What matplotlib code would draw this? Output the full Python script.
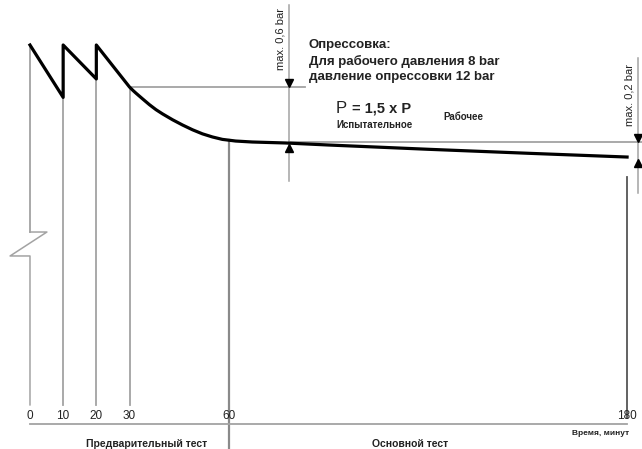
import numpy as np
import matplotlib
matplotlib.use("Agg")
import matplotlib.pyplot as plt

plt.rcParams['font.family'] = ['Liberation Sans', 'DejaVu Sans']

# pressure curve, bar vs minutes
time = [0, 10, 10, 20, 20, 30, 31, 32, 34, 36, 38, 40, 43, 46, 49, 52, 55, 58,
        62, 67, 77, 90, 120, 150, 180]
pressure = [12.0, 11.46, 12.0, 11.65, 12.0, 11.567, 11.533, 11.502, 11.443,
            11.385, 11.333, 11.289, 11.229, 11.175, 11.126, 11.084, 11.052,
            11.027, 11.01, 11.0, 10.99, 10.969, 10.925, 10.884, 10.845]

tick_times = [0, 10, 20, 30, 60, 180]
tick_labels = ["0", "10", "20", "30", "60", "180"]

ref_06 = 11.567   # level at end of pre-test
ref_02 = 11.0     # level at start of main test
t_06 = 78.1
t_02 = 183.3

time = np.array(time)
pressure = np.array(pressure)

fig = plt.figure(figsize=(6.42, 4.49), dpi=100)
ax = fig.add_axes([0, 0, 1, 1])
ax.set_xlim(-9.04, 184.5)
ax.set_ylim(7.835, 12.464)
ax.axis("off")

grey = "#a3a3a3"
txt = "#222222"
base = 8.093
low = 8.29

# vertical guide lines from the curve down
for t in [0, 10, 20, 30]:
    top = pressure[time == t].min()
    if t == 0:
        ax.plot([t, t], [top, 10.072], color=grey, lw=1.3)
        ax.plot([0, 5.1, -6.0, 0, 0], [10.072, 10.072, 9.825, 9.825, low], color=grey, lw=1.1)
    else:
        ax.plot([t, t], [top, low], color=grey, lw=1.3)

ax.plot([60, 60], [np.interp(60, time, pressure), 7.835], color="#8a8a8a", lw=1.6)
ax.plot([180, 180], [10.64, 8.155], color="#555555", lw=1.3)

# base axis
ax.plot([0, 180], [base, base], color=grey, lw=1.3)
for t, lab in zip(tick_times, tick_labels):
    ax.text(t, 8.175, lab, ha="center", va="center", fontsize=8.5, color=txt)

ax.text(35, 7.885, "Предварительный тест", ha="center", va="center", fontsize=7.5,
        fontweight="bold", color=txt)
ax.text(114.6, 7.885, "Основной тест", ha="center", va="center", fontsize=7.5,
        fontweight="bold", color=txt)
ax.text(172, 7.995, "Время, минут", ha="center", va="center", fontsize=6,
        fontweight="bold", color=txt)

# reference lines
ax.plot([30, 82.9], [ref_06, ref_06], color=grey, lw=1.3)
ax.plot([t_06, 184.5], [ref_02, ref_02], color=grey, lw=1.3)

# 0.6 bar marker
ax.plot([t_06, t_06], [12.41, 10.60], color=grey, lw=1.1)
ax.plot([t_06], [ref_06 + 0.045], marker="v", color="black", ms=6, ls="none")
ax.plot([t_06], [np.interp(t_06, time, pressure) - 0.045], marker="^", color="black", ms=6, ls="none")
ax.text(t_06 - 2.6, 12.06, "max. 0,6 bar", rotation=90, ha="center", va="center",
        fontsize=8, color=txt)

# 0.2 bar marker
ax.plot([t_02, t_02], [11.87, 10.47], color=grey, lw=1.1)
ax.plot([t_02], [ref_02 + 0.045], marker="v", color="black", ms=6, ls="none")
ax.plot([t_02], [pressure[-1] - 0.06], marker="^", color="black", ms=6, ls="none")
ax.text(t_02 - 2.5, 11.48, "max. 0,2 bar", rotation=90, ha="center", va="center",
        fontsize=8, color=txt)

# curve
ax.plot(time, pressure, color="black", lw=2.3, solid_joinstyle="round")

# annotation text
ax.text(84.1, 12.0, "Опрессовка:", ha="left", va="center", fontsize=9.5,
        fontweight="bold", color=txt)
ax.text(84.1, 11.825, "Для рабочего давления 8 bar", ha="left", va="center",
        fontsize=9.5, fontweight="bold", color=txt)
ax.text(84.1, 11.67, "давление опрессовки 12 bar", ha="left", va="center",
        fontsize=9.5, fontweight="bold", color=txt)

ax.text(92.2, 11.35, "P", ha="left", va="center", fontsize=12, color=txt)
ax.text(97.2, 11.35, "= 1,5 x P", ha="left", va="center", fontsize=10.5,
        fontweight="bold", color=txt)
ax.text(92.5, 11.18, "Испытательное", ha="left", va="center", fontsize=7,
        fontweight="bold", color=txt)
ax.text(124.5, 11.26, "Рабочее", ha="left", va="center", fontsize=7,
        fontweight="bold", color=txt)

fig.savefig("out.png", dpi=100)
